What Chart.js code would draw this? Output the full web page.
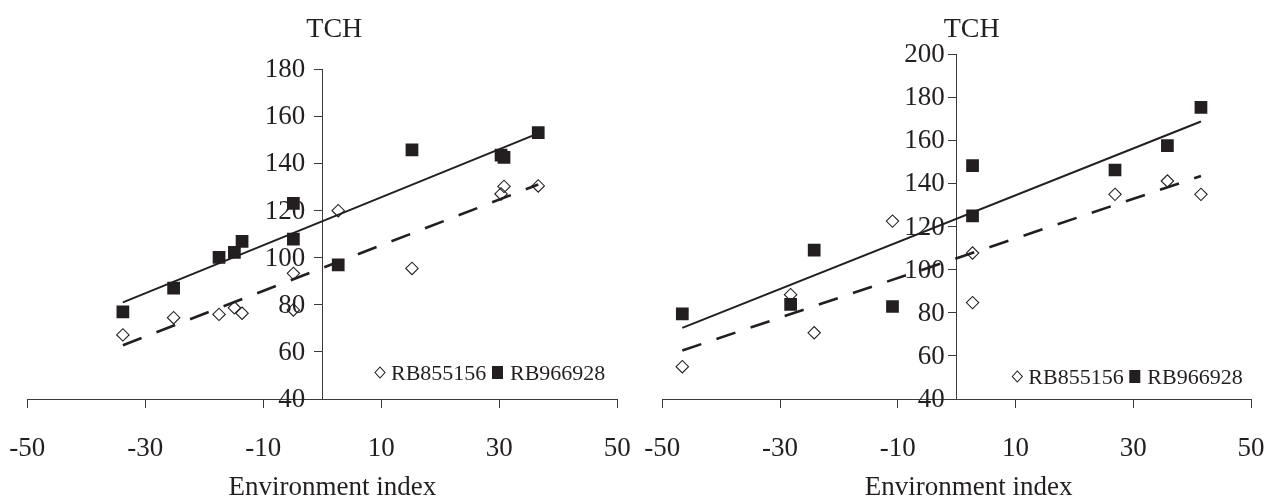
<!DOCTYPE html>
<html>
<head>
<meta charset="utf-8">
<script src="https://cdn.jsdelivr.net/npm/chart.js@4/dist/chart.umd.min.js"></script>
<style>
  html, body { margin: 0; padding: 0; background: #fff; }
  #wrap { position: relative; width: 1266px; height: 497px; overflow: hidden; }
  canvas { position: absolute; top: 0; }
  #left { left: 0; }
  #right { left: 640px; }
</style>
</head>
<body>
<div id="wrap">
  <canvas id="left" width="640" height="497"></canvas>
  <canvas id="right" width="626" height="497"></canvas>
</div>
<script>
// Series names and axis labels
const seriesNames = ['RB855156', 'RB966928'];
const yTitle = 'TCH';
const xTitle = 'Environment index';

// Tick labels
const xTicks = [-50, -30, -10, 10, 30, 50];
const leftYTicks = [40, 60, 80, 100, 120, 140, 160, 180];
const rightYTicks = [40, 60, 80, 100, 120, 140, 160, 180, 200];

// Left panel: environment index and TCH of each cultivar
const leftEnv = [-33.8, -25.2, -17.5, -14.9, -13.6, -4.9, -4.9, 2.7, 15.2, 30.3, 30.8, 36.6];
const leftRB855156 = [67.2, 74.5, 75.9, 78.7, 76.4, 93.3, 77.8, 119.9, 95.4, 127.0, 130.2, 130.4];
const leftRB966928 = [77.0, 87.0, 100.1, 102.2, 106.9, 123.0, 107.8, 96.9, 145.7, 143.5, 142.5, 153.0];
// fitted lines (start, end)
const leftTrendX = [-33.8, 36.6];
const leftTrend855 = [62.8, 131.0];
const leftTrend966 = [81.0, 152.7];

// Right panel
const rightEnv = [-46.6, -28.2, -24.2, -10.9, 2.7, 2.7, 26.9, 35.8, 41.5];
const rightRB855156 = [55.0, 88.4, 70.7, 122.5, 107.7, 84.7, 134.9, 141.1, 134.9];
const rightRB966928 = [79.5, 83.9, 109.0, 82.9, 148.2, 124.9, 146.2, 157.5, 175.2];
const rightTrendX = [-46.6, 41.5];
const rightTrend855 = [62.5, 143.4];
const rightTrend966 = [73.0, 168.7];

const INK = '#231f20';
const AXIS = '#3a3a3a';
const FONT = '"Liberation Serif", "Times New Roman", serif';

function points(xs, ys) {
  return xs.map((x, i) => ({ x: x, y: ys[i] }));
}

// Axis titles, y tick labels (the y axis sits at x = 0) and the small legend
const annotations = {
  id: 'annotations',
  beforeDatasetsDraw(chart, args, opts) {
    const { ctx, scales } = chart;
    const axisX = scales.x.getPixelForValue(0);
    ctx.save();
    ctx.fillStyle = INK;
    ctx.font = '27px ' + FONT;
    ctx.textAlign = 'right';
    ctx.textBaseline = 'middle';
    scales.y.ticks.forEach(t => {
      ctx.fillText(String(t.value), axisX - opts.yLabelGap, scales.y.getPixelForValue(t.value) + 1);
    });
    ctx.restore();
  },
  afterDraw(chart, args, opts) {
    const { ctx, chartArea, scales } = chart;
    const axisX = scales.x.getPixelForValue(0);
    ctx.save();
    ctx.fillStyle = INK;
    ctx.textAlign = 'center';
    ctx.textBaseline = 'alphabetic';
    ctx.font = '28px ' + FONT;
    ctx.fillText(yTitle, axisX + opts.titleShift, 37);
    ctx.font = '27px ' + FONT;
    ctx.fillText(xTitle, axisX + opts.xTitleShift, 495);

    // legend
    const lx = chartArea.left + opts.legendX;
    const base = chartArea.bottom - opts.legendBase;
    const my = base - 7.5;
    ctx.strokeStyle = INK;
    ctx.lineWidth = 1.1;
    ctx.beginPath();
    ctx.moveTo(lx - 5, my);
    ctx.lineTo(lx, my - 5.5);
    ctx.lineTo(lx + 5, my);
    ctx.lineTo(lx, my + 5.5);
    ctx.closePath();
    ctx.stroke();
    ctx.fillRect(lx + 112, my - 6.5, 11, 13);
    ctx.font = '22px ' + FONT;
    ctx.textAlign = 'left';
    ctx.fillText(seriesNames[0], lx + 11, base);
    ctx.fillText(seriesNames[1], lx + 130, base);
    ctx.restore();
  }
};

function makePanel(id, env, a, b, trendX, trendA, trendB, yMax, yTicks, pad, annot) {
  return new Chart(document.getElementById(id), {
    type: 'scatter',
    data: {
      datasets: [
        {
          label: seriesNames[1],
          data: points(env, b),
          pointStyle: 'rect',
          pointRadius: 9,
          pointHoverRadius: 9,
          backgroundColor: INK,
          borderColor: INK,
          borderWidth: 0
        },
        {
          label: seriesNames[0],
          data: points(env, a),
          pointStyle: 'rectRot',
          pointRadius: 6.2,
          pointHoverRadius: 6.2,
          backgroundColor: 'rgba(0,0,0,0)',
          borderColor: INK,
          borderWidth: 1.1
        },
        {
          label: seriesNames[1] + ' fit',
          data: points(trendX, trendB),
          showLine: true,
          pointRadius: 0,
          borderColor: INK,
          borderWidth: 2
        },
        {
          label: seriesNames[0] + ' fit',
          data: points(trendX, trendA),
          showLine: true,
          pointRadius: 0,
          borderColor: INK,
          borderWidth: 2.6,
          borderDash: [20, 16]
        }
      ]
    },
    options: {
      responsive: false,
      animation: false,
      events: [],
      layout: { padding: pad },
      scales: {
        x: {
          type: 'linear',
          position: 'bottom',
          min: -50,
          max: 50,
          afterBuildTicks: s => { s.ticks = xTicks.map(v => ({ value: v })); },
          afterFit: s => { s.height = 60; },
          grid: { drawOnChartArea: false, drawTicks: true, tickLength: 9, tickColor: AXIS, tickWidth: 1 },
          border: { display: true, color: AXIS, width: 1 },
          ticks: {
            color: INK,
            // tall line height pushes the labels well below the axis
            font: { family: FONT, size: 27, lineHeight: 3.0 },
            padding: 0,
            maxRotation: 0,
            autoSkip: false,
            callback: v => String(v)
          }
        },
        y: {
          type: 'linear',
          position: { x: 0 },
          min: 40,
          max: yMax,
          afterBuildTicks: s => { s.ticks = yTicks.map(v => ({ value: v })); },
          grid: { drawOnChartArea: false, drawTicks: true, tickLength: 8, tickColor: AXIS, tickWidth: 1 },
          border: { display: true, color: AXIS, width: 1 },
          ticks: { display: false }
        }
      },
      plugins: {
        legend: { display: false },
        tooltip: { enabled: false },
        annotations: annot
      }
    },
    plugins: [annotations]
  });
}

makePanel('left', leftEnv, leftRB855156, leftRB966928, leftTrendX, leftTrend855, leftTrend966,
  180, leftYTicks,
  { left: 27.3, right: 22.7, top: 69, bottom: 38 },
  { titleShift: 12, xTitleShift: 10, legendX: 352.7, legendBase: 19, yLabelGap: 17 });

makePanel('right', rightEnv, rightRB855156, rightRB966928, rightTrendX, rightTrend855, rightTrend966,
  200, rightYTicks,
  { left: 22.3, right: 15, top: 54, bottom: 38 },
  { titleShift: 15, xTitleShift: 12, legendX: 355, legendBase: 15, yLabelGap: 12 });
</script>
</body>
</html>
